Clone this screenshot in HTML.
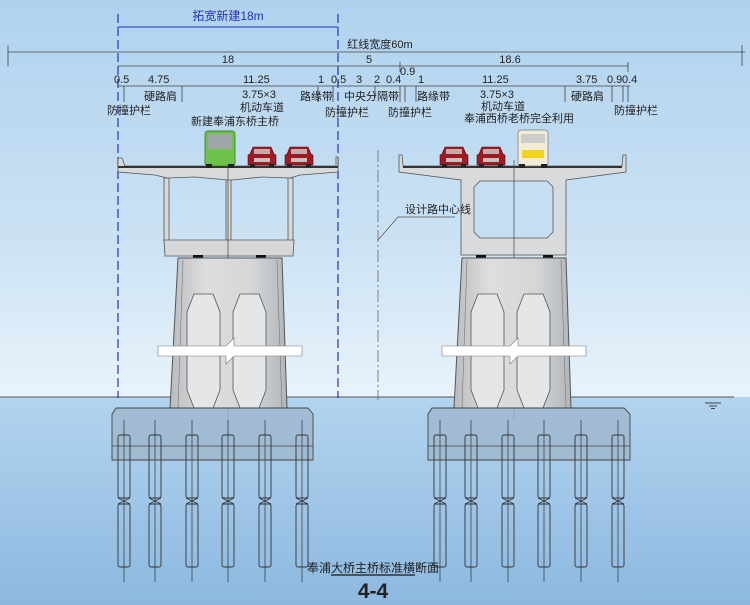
<!DOCTYPE html>
<html><head><meta charset="utf-8"><style>
html,body{margin:0;padding:0;width:750px;height:605px;overflow:hidden}
svg{display:block}
text{font-family:"Liberation Sans","Noto Sans CJK SC",sans-serif;fill:#222}
</style></head><body>
<svg width="750" height="605" viewBox="0 0 750 605" xmlns="http://www.w3.org/2000/svg">
<defs>
<linearGradient id="sky" x1="0" y1="0" x2="0" y2="1">
<stop offset="0" stop-color="#b0d2ee"/><stop offset="0.6" stop-color="#cbe2f4"/><stop offset="1" stop-color="#e8f3fb"/>
</linearGradient>
<linearGradient id="water" x1="0" y1="0" x2="0" y2="1">
<stop offset="0" stop-color="#b2d4ef"/><stop offset="1" stop-color="#8db8e0"/>
</linearGradient>
<linearGradient id="conc" x1="0" y1="0" x2="1" y2="0">
<stop offset="0" stop-color="#b9bcbf"/><stop offset="0.3" stop-color="#dcdedf"/><stop offset="0.7" stop-color="#d4d6d8"/><stop offset="1" stop-color="#b3b6b9"/>
</linearGradient>
<g id="pier">
<polygon points="-52,0 52,0 57,150 -60,150" fill="url(#conc)" stroke="#555" stroke-width="1"/>
<line x1="-47" y1="2" x2="-52" y2="150" stroke="#777" stroke-width="0.6"/>
<line x1="47" y1="2" x2="52" y2="150" stroke="#777" stroke-width="0.6"/>
<polygon points="-36,36 -17,36 -10,54 -10,132 -17,150 -36,150 -43,132 -43,54" fill="#e4e6e7" stroke="#555" stroke-width="0.8"/>
<polygon points="10,36 29,36 36,54 36,132 29,150 10,150 3,132 3,54" fill="#e4e6e7" stroke="#555" stroke-width="0.8"/>
<polygon points="-72,88 -4,88 4,80 4,88 72,88 72,98 4,98 -4,106 -4,98 -72,98" fill="#fff" stroke="#777" stroke-width="0.6"/>
</g>
<g id="pile">
<rect x="-6" y="0" width="12" height="63" rx="2" fill="none" stroke="#333" stroke-width="0.9"/>
<rect x="-6" y="69" width="12" height="63" rx="2" fill="none" stroke="#333" stroke-width="0.9"/>
<line x1="-6" y1="63" x2="6" y2="69" stroke="#333" stroke-width="0.7"/>
<line x1="6" y1="63" x2="-6" y2="69" stroke="#333" stroke-width="0.7"/>
<line x1="0" y1="-15" x2="0" y2="147" stroke="#333" stroke-width="0.7"/>
</g>
<g id="car">
<path d="M2,8 L5,1 L23,1 L26,8 L28,9 L28,19 L0,19 L0,9Z" fill="#9b1c22" stroke="#5a0a0e" stroke-width="0.6"/>
<rect x="6" y="3" width="16" height="5" fill="#c9a9aa"/>
<rect x="6" y="12" width="16" height="4" fill="#c8c0c0"/>
<rect x="2" y="18" width="5" height="3" fill="#222"/><rect x="21" y="18" width="5" height="3" fill="#222"/>
</g>
</defs>
<rect width="750" height="397" fill="url(#sky)"/>
<rect y="397" width="750" height="208" fill="url(#water)"/>
<line x1="0" y1="397" x2="734" y2="397" stroke="#555" stroke-width="1"/>
<line x1="705" y1="403" x2="721" y2="403" stroke="#444"/><line x1="709" y1="406" x2="717" y2="406" stroke="#444"/><line x1="711" y1="408.5" x2="715" y2="408.5" stroke="#444"/>

<g stroke="#2a2fbf" stroke-width="1.2" stroke-dasharray="9,4">
<line x1="118" y1="14" x2="118" y2="398"/><line x1="338" y1="14" x2="338" y2="398"/>
</g>
<line x1="118" y1="27" x2="338" y2="27" stroke="#2a2fbf" stroke-width="1"/>
<text x="228" y="20" font-size="12" text-anchor="middle" style="fill:#2a2fbf">拓宽新建18m</text>

<g stroke="#444" stroke-width="0.8">
<line x1="8" y1="52" x2="745" y2="52"/><line x1="8" y1="45" x2="8" y2="66"/><line x1="742" y1="45" x2="742" y2="66"/>
<line x1="118" y1="66" x2="628" y2="66"/><line x1="628" y1="62" x2="628" y2="72"/><line x1="400" y1="62" x2="400" y2="72"/>
<line x1="118" y1="86" x2="630" y2="86"/>
<line x1="124" y1="86" x2="124" y2="102"/><line x1="182" y1="86" x2="182" y2="102"/><line x1="318" y1="86" x2="318" y2="102"/><line x1="333" y1="86" x2="333" y2="102"/>
<line x1="375" y1="86" x2="375" y2="98"/><line x1="400" y1="86" x2="400" y2="102"/><line x1="405" y1="86" x2="405" y2="102"/><line x1="416" y1="86" x2="416" y2="102"/>
<line x1="565" y1="86" x2="565" y2="102"/><line x1="612" y1="86" x2="612" y2="102"/><line x1="623" y1="86" x2="623" y2="102"/><line x1="628" y1="86" x2="628" y2="102"/>
</g>
<g font-size="11">
<text x="380" y="48" text-anchor="middle">红线宽度60m</text>
<text x="228" y="63" text-anchor="middle">18</text>
<text x="369" y="63" text-anchor="middle">5</text>
<text x="510" y="63" text-anchor="middle">18.6</text>
<text x="114" y="83">0.5</text><text x="148" y="83">4.75</text><text x="243" y="83">11.25</text>
<text x="318" y="83">1</text><text x="331" y="83">0.5</text><text x="356" y="83">3</text><text x="374" y="83">2</text><text x="386" y="83">0.4</text>
<text x="400" y="75">0.9</text><text x="418" y="83">1</text><text x="482" y="83">11.25</text>
<text x="576" y="83">3.75</text><text x="607" y="83">0.9</text><text x="622" y="83">0.4</text>
<text x="144" y="100">硬路肩</text><text x="242" y="98">3.75×3</text><text x="240" y="111">机动车道</text>
<text x="300" y="100">路缘带</text><text x="107" y="114">防撞护栏</text><text x="191" y="125">新建奉浦东桥主桥</text>
<text x="325" y="116">防撞护栏</text><text x="344" y="100">中央分隔带</text><text x="388" y="116">防撞护栏</text>
<text x="417" y="100">路缘带</text><text x="480" y="98">3.75×3</text><text x="481" y="110">机动车道</text>
<text x="464" y="122">奉浦西桥老桥完全利用</text><text x="571" y="100">硬路肩</text><text x="614" y="114">防撞护栏</text>
</g>

<line x1="378" y1="150" x2="378" y2="400" stroke="#666" stroke-width="0.8" stroke-dasharray="12,3,2,3"/>
<polyline points="378,240 398,217 455,217" fill="none" stroke="#555" stroke-width="0.8"/>

<g stroke="#555" stroke-width="0.8">
<rect x="164" y="178" width="5" height="64" fill="#d6d8d9"/><rect x="226" y="178" width="5" height="64" fill="#d6d8d9"/><rect x="288" y="178" width="5" height="64" fill="#d6d8d9"/>
<polygon points="164,240 294,240 293,256 165,256" fill="#d5d7d8"/>
<path d="M118,158 L122,158 L125,166 L336,166 L336,157 L338,157 L338,172 L300,175 L290,178 L262,177 L232,180 L228,180 L195,177 L167,178 L155,175 L118,172Z" fill="#d8dadb"/>
<line x1="118" y1="167" x2="338" y2="167" stroke="#333" stroke-width="2"/>
</g>
<line x1="228" y1="160" x2="228" y2="420" stroke="#444" stroke-width="0.7"/>
<rect x="193" y="255" width="10" height="3" fill="#111"/><rect x="256" y="255" width="10" height="3" fill="#111"/>
<use href="#pier" x="230" y="258"/>
<polygon points="116,408 308,408 313,414 313,460 112,460 112,414" fill="#9fb9cf" fill-opacity="0.85" stroke="#444" stroke-width="0.9"/>
<line x1="112" y1="446" x2="313" y2="446" stroke="#444" stroke-width="0.8"/>
<use href="#pile" x="124" y="435"/><use href="#pile" x="155" y="435"/><use href="#pile" x="192" y="435"/><use href="#pile" x="228" y="435"/><use href="#pile" x="265" y="435"/><use href="#pile" x="302" y="435"/>
<rect x="205" y="131" width="30" height="35" rx="3" fill="#6ec24a" stroke="#2e6a1c" stroke-width="0.7"/>
<rect x="208" y="134" width="24" height="15" fill="#9fa6a8"/>
<rect x="206" y="164" width="6" height="4" fill="#222"/><rect x="228" y="164" width="6" height="4" fill="#222"/>
<use href="#car" x="248" y="146"/><use href="#car" x="285" y="146"/>

<g stroke="#555" stroke-width="0.8">
<path d="M399,155 L402,155 L403,166 L622,166 L623,155 L626,155 L626,172 L566,180 L566,255 L461,255 L461,180 L399,172Z" fill="#d8dadb"/>
<polygon points="480,181 547,181 553,187 553,232 547,238 480,238 474,232 474,187" fill="#c6def2"/>
<line x1="403" y1="167" x2="622" y2="167" stroke="#333" stroke-width="2"/>
</g>
<line x1="514" y1="160" x2="514" y2="420" stroke="#444" stroke-width="0.7"/>
<rect x="476" y="255" width="10" height="3" fill="#111"/><rect x="543" y="255" width="10" height="3" fill="#111"/>
<use href="#pier" x="514" y="258"/>
<polygon points="432,408 624,408 630,414 630,460 428,460 428,414" fill="#9fb9cf" fill-opacity="0.85" stroke="#444" stroke-width="0.9"/>
<line x1="428" y1="446" x2="630" y2="446" stroke="#444" stroke-width="0.8"/>
<use href="#pile" x="440" y="435"/><use href="#pile" x="471" y="435"/><use href="#pile" x="508" y="435"/><use href="#pile" x="544" y="435"/><use href="#pile" x="581" y="435"/><use href="#pile" x="618" y="435"/>
<use href="#car" x="440" y="146"/><use href="#car" x="477" y="146"/>
<rect x="518" y="130" width="30" height="36" rx="3" fill="#f1ecd8" stroke="#777" stroke-width="0.7"/>
<rect x="521" y="134" width="24" height="9" fill="#ccc"/>
<rect x="522" y="150" width="22" height="8" fill="#f2d21a"/>
<rect x="519" y="164" width="6" height="4" fill="#222"/><rect x="541" y="164" width="6" height="4" fill="#222"/>

<text x="405" y="213" font-size="11">设计路中心线</text>

<text x="373" y="572" font-size="12" text-anchor="middle">奉浦大桥主桥标准横断面</text>
<line x1="331" y1="575" x2="415" y2="575" stroke="#333" stroke-width="1.5"/>
<text x="373" y="598" font-size="21" font-weight="bold" text-anchor="middle">4-4</text>
</svg>
</body></html>
